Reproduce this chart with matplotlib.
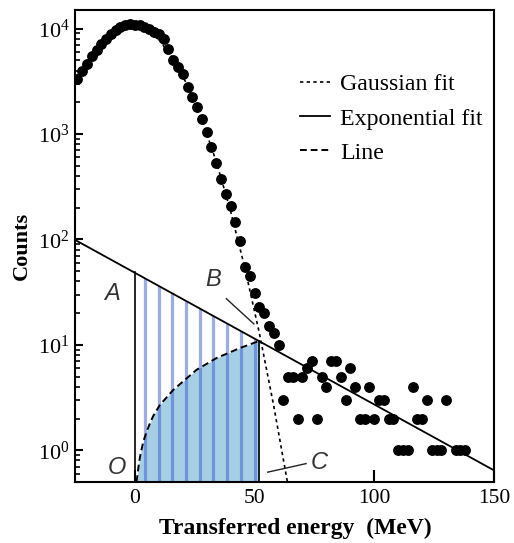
import numpy as np
import matplotlib
matplotlib.use('Agg')
import matplotlib.pyplot as plt
from matplotlib.patches import Polygon
from matplotlib.ticker import LogLocator, LogFormatterSciNotation, FixedLocator

plt.rcParams['font.family'] = ['Liberation Serif']
plt.rcParams['mathtext.fontset'] = 'stix'

# measured spectrum, 2 MeV bins (0 = empty bin, not drawn)
energy = np.arange(-24, 140, 2)
counts = [3320, 3980, 4610, 5530, 6270, 7140, 7980, 8900, 9600, 10300, 10800, 11100,
          10900, 10700, 10300, 9800, 9300, 8900, 7980, 6410, 5020, 4350, 3700, 2800,
          2220, 1810, 1380, 1050, 756, 525, 375, 267, 206, 146, 96, 55, 45, 31, 23,
          20, 15, 13, 10,
          3, 5, 5, 2, 5, 6, 7, 2, 5, 4, 7, 7, 5, 3, 6, 4, 2, 2, 4, 2, 3, 3, 2, 2,
          1, 1, 1, 4, 2, 2, 3, 1, 1, 1, 3, 0, 1, 1, 1]

# Gaussian fit
gauss_x = [-2, 4, 10, 16, 22, 28, 34, 40, 46, 52, 58, 64]
gauss_y = [10960, 10090, 7860, 5180, 2890, 1366, 547, 185, 53, 12.9, 2.64, 0.46]

# exponential fit (straight on log axis), end points
expo_x = [-25, 150]
expo_y = [99, 0.645]

# "Line" curve
line_x = [0.7, 1.8, 2.5, 3.5, 4.9, 6.3, 7.6, 10.4, 16, 25.7, 34, 43.75, 52]
line_y = [0.5, 0.78, 0.95, 1.2, 1.5, 1.8, 2.1, 2.68, 3.73, 5.78, 7.47, 9.3, 10.9]

# region A-O-C-B bounds and hatch stripes
x_left, x_right = 0, 52
top_left, top_right = 48.6, 10.9
stripes = [4.2, 10, 15.6, 21.3, 27, 32.8, 38.5, 44.3, 50]

YMIN, YMAX = 0.5, 1.5e4

fig = plt.figure(figsize=(5.14, 5.43), dpi=100)
ax = fig.add_axes([75 / 514, 61 / 543, 419 / 514, 472 / 543])
ax.set_yscale('log')
ax.set_xlim(-25, 150)
ax.set_ylim(YMIN, YMAX)

# filled area under the dashed line
ax.fill_between(line_x, YMIN, line_y, color='#a6cfe6', lw=0, zorder=1)

# vertical stripes, clipped to the area under the exponential fit
clip = Polygon([(x_left, YMIN), (x_left, top_left), (x_right, top_right), (x_right, YMIN)],
               closed=True, transform=ax.transData, facecolor='none', edgecolor='none')
ax.add_patch(clip)
vl = ax.vlines(stripes, YMIN, YMAX, colors='#3a5acd', alpha=0.5, lw=2.3, zorder=1.5)
vl.set_clip_path(clip)

ax.plot([x_left, x_left], [YMIN, top_left], color='black', lw=1.2, zorder=2)
ax.plot([x_right, x_right], [YMIN, top_right], color='black', lw=1.2, zorder=2)

ax.plot(gauss_x, gauss_y, color='black', lw=1.2, ls=(0, (2, 2)), label='Gaussian fit', zorder=2)
ax.plot(expo_x, expo_y, color='black', lw=1.3, label='Exponential fit', zorder=2)
ax.plot(line_x, line_y, color='black', lw=1.4, ls=(0, (3.5, 2)), label='Line', zorder=2)

cnt = np.array(counts, dtype=float)
ok = cnt > 0
ax.plot(energy[ok], cnt[ok], 'o', color='black', ms=6.8, zorder=3)

# pointer lines and letters
ax.plot([38.2, 49.7], [27.4, 15.8], color='#222222', lw=1.0, zorder=2)
ax.plot([55.5, 71.5], [0.62, 0.747], color='#222222', lw=1.0, zorder=2)
lab = dict(fontsize=17, style='italic', family='Liberation Sans', color='#333333',
           ha='center', va='center')
ax.text(-9.7, 31, 'A', **lab)
ax.text(32.9, 41.6, 'B', **lab)
ax.text(77, 0.77, 'C', **lab)
ax.text(-7.6, 0.69, 'O', **lab)

leg = ax.legend(loc='upper left', bbox_to_anchor=(0.537, 0.865), frameon=False,
                fontsize=17.2, handlelength=1.25, handletextpad=0.42,
                labelspacing=0.52, borderpad=0, borderaxespad=0)

# axes styling
for s in ax.spines.values():
    s.set_linewidth(1.5)
ax.set_axisbelow(True)
ax.xaxis.set_major_locator(FixedLocator([0, 50, 100, 150]))
ax.yaxis.set_major_locator(LogLocator(base=10, numticks=10))
ax.yaxis.set_minor_locator(LogLocator(base=10, subs=np.arange(2, 10), numticks=20))
ax.yaxis.set_major_formatter(LogFormatterSciNotation())
ax.tick_params(axis='x', which='major', direction='in', length=9, width=1.5,
               labelsize=15.5, pad=5, top=False)
ax.tick_params(axis='y', which='major', direction='in', length=5.5, width=1.5,
               labelsize=16, pad=4, right=False)
ax.tick_params(axis='y', which='minor', direction='in', length=3.5, width=1.2, right=False)

ax.set_xlabel('Transferred energy  (MeV)', fontsize=17, fontweight='bold')
ax.xaxis.set_label_coords(0.525, -0.075)
ax.set_ylabel('Counts', fontsize=16, fontweight='bold', labelpad=4)

fig.savefig('out.png', dpi=100)
